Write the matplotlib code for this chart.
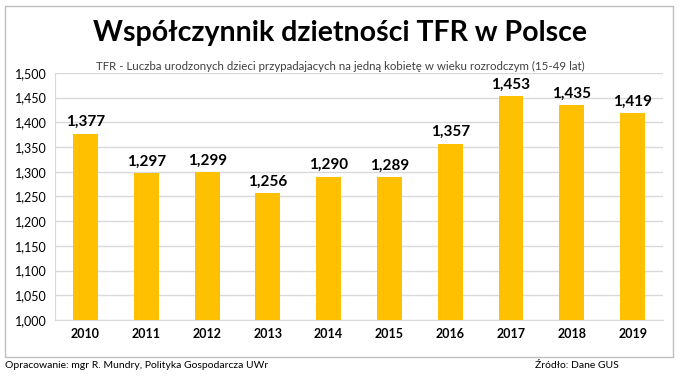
import numpy as np
import matplotlib.pyplot as plt
from matplotlib.patches import Rectangle

years = ['2010', '2011', '2012', '2013', '2014', '2015', '2016', '2017', '2018', '2019']
tfr = [1.377, 1.297, 1.299, 1.256, 1.290, 1.289, 1.357, 1.453, 1.435, 1.419]
yticks = [1.000, 1.050, 1.100, 1.150, 1.200, 1.250, 1.300, 1.350, 1.400, 1.450, 1.500]

plt.rcParams['font.family'] = ['Lato', 'DejaVu Sans']

fig = plt.figure(figsize=(6.8, 3.76), dpi=100)
fig.patches.append(Rectangle((0.008, 0.05), 0.982, 0.935, transform=fig.transFigure,
                             fill=False, edgecolor='#BFBFBF', lw=1))

ax = fig.add_axes([0.081, 0.149, 0.894, 0.657])
x = np.arange(len(years))
ax.bar(x, tfr, width=0.41, color='#FFC000', zorder=3)
for xi, v in zip(x, tfr):
    ax.text(xi, v + 0.009, f'{v:.3f}'.replace('.', ','), ha='center', va='bottom',
            fontsize=11, fontweight='bold', color='#000000', zorder=4)

ax.set_ylim(1.0, 1.5)
ax.set_xlim(-0.5, len(years) - 0.5)
ax.set_yticks(yticks)
ax.set_yticklabels([f'{t:.3f}'.replace('.', ',') for t in yticks], fontsize=9)
ax.set_xticks(x)
ax.set_xticklabels(years, fontsize=9, fontweight='bold')
ax.grid(axis='y', color='#D9D9D9', lw=1, zorder=0)
for s in ['top', 'right']:
    ax.spines[s].set_visible(False)
ax.spines['left'].set_color('#D9D9D9')
ax.spines['bottom'].set_color('#D9D9D9')
ax.tick_params(length=0, pad=6)

fig.text(0.5, 0.912, 'Współczynnik dzietności TFR w Polsce', ha='center', va='center',
         fontsize=20.5, fontweight='bold')
fig.text(0.5, 0.823, 'TFR - Luczba urodzonych dzieci przypadajacych na jedną kobietę w wieku rozrodczym (15-49 lat)',
         ha='center', va='center', fontsize=8.3, color='#404040')
fig.text(0.008, 0.028, 'Opracowanie: mgr R. Mundry, Polityka Gospodarcza UWr', ha='left', va='center',
         fontsize=7.5)
fig.text(0.787, 0.028, 'Źródło: Dane GUS', ha='left', va='center', fontsize=7.5)

fig.savefig('out.png', dpi=100)
